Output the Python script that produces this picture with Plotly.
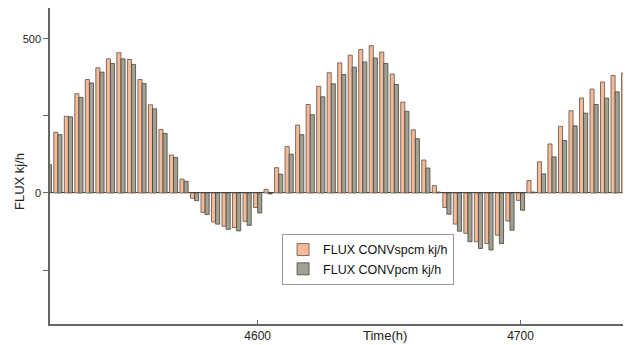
import plotly.graph_objects as go

time_h = list(range(4520, 4741, 4))
flux_spcm = [100, 197, 249, 322, 368, 406, 435, 455, 433, 368, 286, 206, 123, 45,
             -17, -63, -94, -108, -112, -92, -47, 12, 82, 151, 220, 287, 346, 390,
             422, 447, 465, 478, 457, 386, 295, 205, 107, 24, -47, -101, -131, -158,
             -164, -137, -91, -24, 40, 101, 159, 216, 267, 308, 337, 360, 381, 389]
flux_pcm = [92, 189, 247, 310, 357, 392, 420, 435, 417, 355, 273, 193, 115, 38,
            -25, -70, -101, -118, -123, -105, -65, -3, 61, 126, 189, 254, 312, 354,
            384, 408, 425, 438, 420, 352, 265, 176, 81, 3, -69, -124, -158, -180,
            -185, -164, -121, -56, 3, 62, 117, 170, 218, 259, 287, 308, 328, 340]

y_tickvals = [-250, 0, 250, 500]
y_ticktext = ["", "0", "", "500"]
x_tickvals = [4600, 4700]
x_ticktext = ["4600", "4700"]

fig = go.Figure()
fig.add_trace(go.Bar(x=time_h, y=flux_spcm, name="FLUX CONVspcm kj/h",
                     marker=dict(color="#F7BA98", line=dict(color="#5a5048", width=0.8))))
fig.add_trace(go.Bar(x=time_h, y=flux_pcm, name="FLUX CONVpcm kj/h",
                     marker=dict(color="#A3A191", line=dict(color="#45443c", width=0.8))))

fig.update_layout(
    width=632, height=345,
    margin=dict(l=50, r=9, t=8, b=21),
    paper_bgcolor="white", plot_bgcolor="white",
    barmode="group", bargap=0.22, bargroupgap=0.0,
    font=dict(family="Liberation Sans, Arial, sans-serif", color="#222"),
    showlegend=True,
    legend=dict(x=0.405, y=0.285, xanchor="left", yanchor="top",
                bgcolor="white", bordercolor="#999", borderwidth=1,
                font=dict(size=12.5, color="#111"), itemwidth=30,
                tracegroupgap=0),
    xaxis=dict(range=[4521, 4739], showline=True, linecolor="#666", linewidth=1.5,
               ticks="inside", ticklen=4, tickcolor="#666",
               tickvals=x_tickvals, ticktext=x_ticktext, automargin=False,
               tickfont=dict(size=12, color="#222"), showgrid=False, zeroline=False),
    yaxis=dict(range=[-425, 600], showline=True, linecolor="#666", linewidth=1.5,
               ticks="outside", ticklen=5, tickcolor="#666", automargin=False,
               tickvals=y_tickvals, ticktext=y_ticktext,
               tickfont=dict(size=11, color="#222"), showgrid=False,
               zeroline=True, zerolinecolor="#444", zerolinewidth=1),
    annotations=[
        dict(text="FLUX kj/h", xref="paper", yref="paper", x=-0.052, y=0.45,
             textangle=-90, showarrow=False, font=dict(size=13, color="#222"),
             xanchor="center", yanchor="middle"),
        dict(text="Time(h)", xref="paper", yref="paper", x=0.585, y=-0.036,
             showarrow=False, font=dict(size=13, color="#222"),
             xanchor="center", yanchor="middle"),
    ],
)

fig.write_html("out.html")
